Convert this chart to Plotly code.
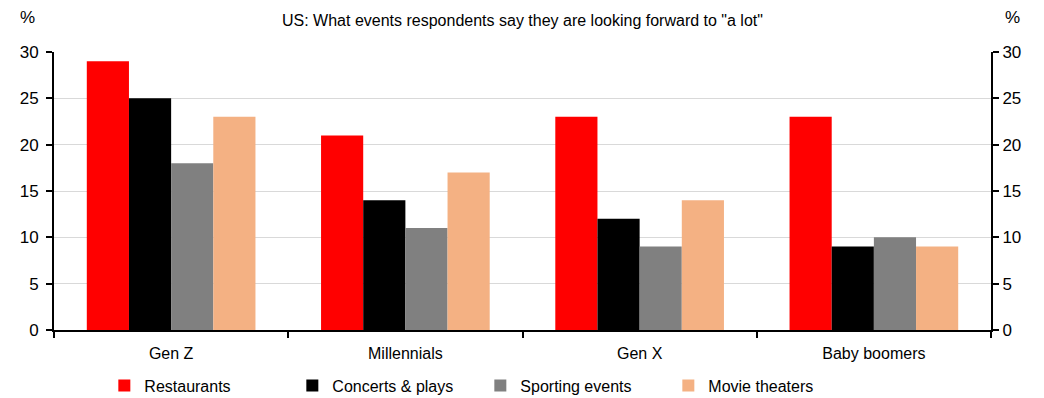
import plotly.graph_objects as go

categories = ["Gen Z", "Millennials", "Gen X", "Baby boomers"]
series_names = ["Restaurants", "Concerts & plays", "Sporting events", "Movie theaters"]
restaurants = [29, 21, 23, 23]
concerts = [25, 14, 12, 9]
sporting = [18, 11, 9, 10]
movies = [23, 17, 14, 9]
colors = ["#FF0000", "#000000", "#808080", "#F4B183"]
y_ticks = [0, 5, 10, 15, 20, 25, 30]

FONT = "Liberation Sans, Arial, sans-serif"

fig = go.Figure()
for name, vals, col in zip(series_names, [restaurants, concerts, sporting, movies], colors):
    fig.add_trace(go.Bar(x=categories, y=vals, name=name, marker=dict(color=col, line=dict(width=0))))

# invisible trace so the mirrored right axis is drawn
fig.add_trace(go.Scatter(x=categories, y=[None] * len(categories), yaxis="y2",
                         showlegend=False, hoverinfo="skip", mode="markers"))

axis_common = dict(range=[0, 30], tickvals=y_ticks, ticks="outside", ticklen=6, tickwidth=2,
                   tickcolor="black", showline=True, linecolor="black", linewidth=2,
                   tickfont=dict(size=17, color="black", family=FONT), zeroline=False)

fig.update_layout(
    width=1044, height=398,
    margin=dict(l=54, r=53, t=52, b=68, autoexpand=False),
    paper_bgcolor="white", plot_bgcolor="white",
    barmode="group", bargap=0.28, bargroupgap=0,
    font=dict(family=FONT, color="black", size=16),
    xaxis=dict(showline=True, linecolor="black", linewidth=2, ticks="outside", tickson="boundaries",
               ticklen=6, tickwidth=2, tickcolor="black", ticklabelstandoff=8,
               tickfont=dict(size=16, family=FONT)),
    yaxis=dict(showgrid=True, gridcolor="#D9D9D9", gridwidth=1, ticklabelstandoff=4, **axis_common),
    yaxis2=dict(overlaying="y", side="right", matches="y", showgrid=False, **axis_common),
    legend=dict(orientation="h", x=0.455, xanchor="center", y=-0.2, yanchor="middle",
                font=dict(size=16, family=FONT), entrywidth=143, itemwidth=30,
                bgcolor="rgba(0,0,0,0)", traceorder="normal"),
    showlegend=True,
)

fig.add_annotation(text='US: What events respondents say they are looking forward to "a lot"',
                   xref="paper", yref="paper", x=0.5, y=1.0, yshift=32, xanchor="center", yanchor="middle",
                   showarrow=False, font=dict(size=16, family=FONT))
fig.add_annotation(text="%", xref="paper", yref="paper", x=0, xshift=-27, y=1.0, yshift=35,
                   xanchor="center", yanchor="middle", showarrow=False, font=dict(size=17, family=FONT))
fig.add_annotation(text="%", xref="paper", yref="paper", x=1, xshift=21, y=1.0, yshift=35,
                   xanchor="center", yanchor="middle", showarrow=False, font=dict(size=17, family=FONT))

fig.write_html("out.html")
